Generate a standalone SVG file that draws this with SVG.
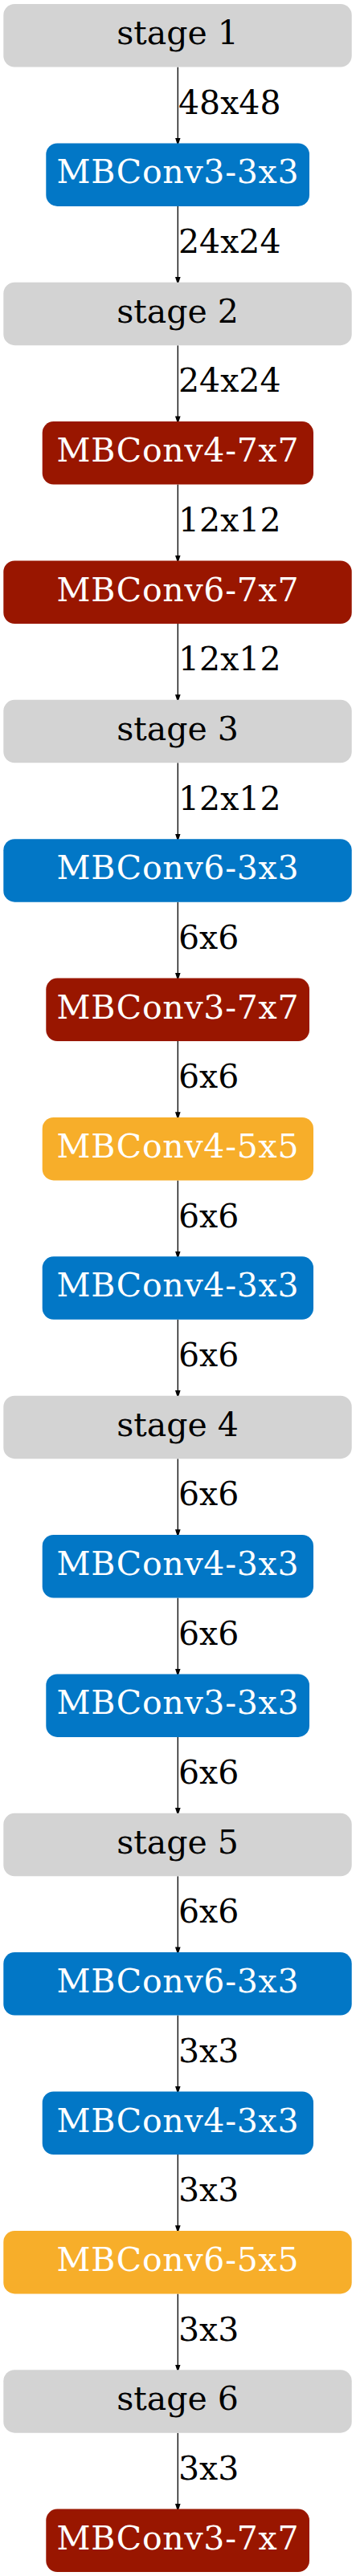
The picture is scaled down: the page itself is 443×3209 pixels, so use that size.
<svg xmlns="http://www.w3.org/2000/svg" width="443" height="3209" viewBox="0 0 443 3209">
<style>
.n text{font-family:"DejaVu Serif",serif;font-size:41px;text-anchor:middle}
.g rect{fill:#d3d3d3}.g text{fill:#000}
.b rect{fill:#0277c6}.r rect{fill:#991600}.o rect{fill:#f7ae2a}
.b text,.r text,.o text{fill:#fff}
.e line{stroke:#000;stroke-width:1.3}
.e text{font-family:"DejaVu Serif",serif;font-size:41px;fill:#000}
</style>
<defs><marker id="ah" markerWidth="10" markerHeight="15" refX="10" refY="5" orient="auto" markerUnits="userSpaceOnUse" viewBox="0 0 15 10"><path d="M0,0L15,5L0,10z" fill="#000"/></marker></defs>
<g id="edges" class="e">
<line x1="221.3" y1="83.5" x2="221.3" y2="178.3" marker-end="url(#ah)"/><text x="222" y="141.7">48x48</text>
<line x1="221.3" y1="256.9" x2="221.3" y2="351.7" marker-end="url(#ah)"/><text x="222" y="315">24x24</text>
<line x1="221.3" y1="430.2" x2="221.3" y2="525.1" marker-end="url(#ah)"/><text x="222" y="488.4">24x24</text>
<line x1="221.3" y1="603.6" x2="221.3" y2="698.4" marker-end="url(#ah)"/><text x="222" y="661.8">12x12</text>
<line x1="221.3" y1="777" x2="221.3" y2="871.8" marker-end="url(#ah)"/><text x="222" y="835.1">12x12</text>
<line x1="221.3" y1="950.3" x2="221.3" y2="1045.2" marker-end="url(#ah)"/><text x="222" y="1008.5">12x12</text>
<line x1="221.3" y1="1123.7" x2="221.3" y2="1218.5" marker-end="url(#ah)"/><text x="222" y="1181.9">6x6</text>
<line x1="221.3" y1="1297.1" x2="221.3" y2="1391.9" marker-end="url(#ah)"/><text x="222" y="1355.2">6x6</text>
<line x1="221.3" y1="1470.4" x2="221.3" y2="1565.3" marker-end="url(#ah)"/><text x="222" y="1528.6">6x6</text>
<line x1="221.3" y1="1643.8" x2="221.3" y2="1738.6" marker-end="url(#ah)"/><text x="222" y="1702">6x6</text>
<line x1="221.3" y1="1817.2" x2="221.3" y2="1912" marker-end="url(#ah)"/><text x="222" y="1875.3">6x6</text>
<line x1="221.3" y1="1990.5" x2="221.3" y2="2085.4" marker-end="url(#ah)"/><text x="222" y="2048.7">6x6</text>
<line x1="221.3" y1="2163.9" x2="221.3" y2="2258.7" marker-end="url(#ah)"/><text x="222" y="2222.1">6x6</text>
<line x1="221.3" y1="2337.3" x2="221.3" y2="2432.1" marker-end="url(#ah)"/><text x="222" y="2395.4">6x6</text>
<line x1="221.3" y1="2510.6" x2="221.3" y2="2605.5" marker-end="url(#ah)"/><text x="222" y="2568.8">3x3</text>
<line x1="221.3" y1="2684" x2="221.3" y2="2778.8" marker-end="url(#ah)"/><text x="222" y="2742.2">3x3</text>
<line x1="221.3" y1="2857.4" x2="221.3" y2="2952.2" marker-end="url(#ah)"/><text x="222" y="2915.5">3x3</text>
<line x1="221.3" y1="3030.7" x2="221.3" y2="3125.6" marker-end="url(#ah)"/><text x="222" y="3088.9">3x3</text>
</g>
<g id="n1" class="n g"><rect x="4.3" y="5" width="433.4" height="78.5" rx="14"/><text x="221" y="55">stage 1</text></g>
<g id="n2" class="n b"><rect x="57.3" y="178.4" width="327.7" height="78.5" rx="14"/><text x="221" y="228.4" textLength="301">MBConv3-3x3</text></g>
<g id="n3" class="n g"><rect x="4.3" y="351.7" width="433.4" height="78.5" rx="14"/><text x="221" y="401.7">stage 2</text></g>
<g id="n4" class="n r"><rect x="52.7" y="525.1" width="337.3" height="78.5" rx="14"/><text x="221" y="575.1" textLength="301">MBConv4-7x7</text></g>
<g id="n5" class="n r"><rect x="4.3" y="698.5" width="433.4" height="78.5" rx="14"/><text x="221" y="748.5" textLength="301">MBConv6-7x7</text></g>
<g id="n6" class="n g"><rect x="4.3" y="871.8" width="433.4" height="78.5" rx="14"/><text x="221" y="921.8">stage 3</text></g>
<g id="n7" class="n b"><rect x="4.3" y="1045.2" width="433.4" height="78.5" rx="14"/><text x="221" y="1095.2" textLength="301">MBConv6-3x3</text></g>
<g id="n8" class="n r"><rect x="57.3" y="1218.6" width="327.7" height="78.5" rx="14"/><text x="221" y="1268.6" textLength="301">MBConv3-7x7</text></g>
<g id="n9" class="n o"><rect x="52.7" y="1391.9" width="337.3" height="78.5" rx="14"/><text x="221" y="1441.9" textLength="301">MBConv4-5x5</text></g>
<g id="n10" class="n b"><rect x="52.7" y="1565.3" width="337.3" height="78.5" rx="14"/><text x="221" y="1615.3" textLength="301">MBConv4-3x3</text></g>
<g id="n11" class="n g"><rect x="4.3" y="1738.7" width="433.4" height="78.5" rx="14"/><text x="221" y="1788.7">stage 4</text></g>
<g id="n12" class="n b"><rect x="52.7" y="1912" width="337.3" height="78.5" rx="14"/><text x="221" y="1962" textLength="301">MBConv4-3x3</text></g>
<g id="n13" class="n b"><rect x="57.3" y="2085.4" width="327.7" height="78.5" rx="14"/><text x="221" y="2135.4" textLength="301">MBConv3-3x3</text></g>
<g id="n14" class="n g"><rect x="4.3" y="2258.8" width="433.4" height="78.5" rx="14"/><text x="221" y="2308.8">stage 5</text></g>
<g id="n15" class="n b"><rect x="4.3" y="2432.1" width="433.4" height="78.5" rx="14"/><text x="221" y="2482.1" textLength="301">MBConv6-3x3</text></g>
<g id="n16" class="n b"><rect x="52.7" y="2605.5" width="337.3" height="78.5" rx="14"/><text x="221" y="2655.5" textLength="301">MBConv4-3x3</text></g>
<g id="n17" class="n o"><rect x="4.3" y="2778.9" width="433.4" height="78.5" rx="14"/><text x="221" y="2828.9" textLength="301">MBConv6-5x5</text></g>
<g id="n18" class="n g"><rect x="4.3" y="2952.2" width="433.4" height="78.5" rx="14"/><text x="221" y="3002.2">stage 6</text></g>
<g id="n19" class="n r"><rect x="57.3" y="3125.6" width="327.7" height="78.5" rx="14"/><text x="221" y="3175.6" textLength="301">MBConv3-7x7</text></g>
</svg>
